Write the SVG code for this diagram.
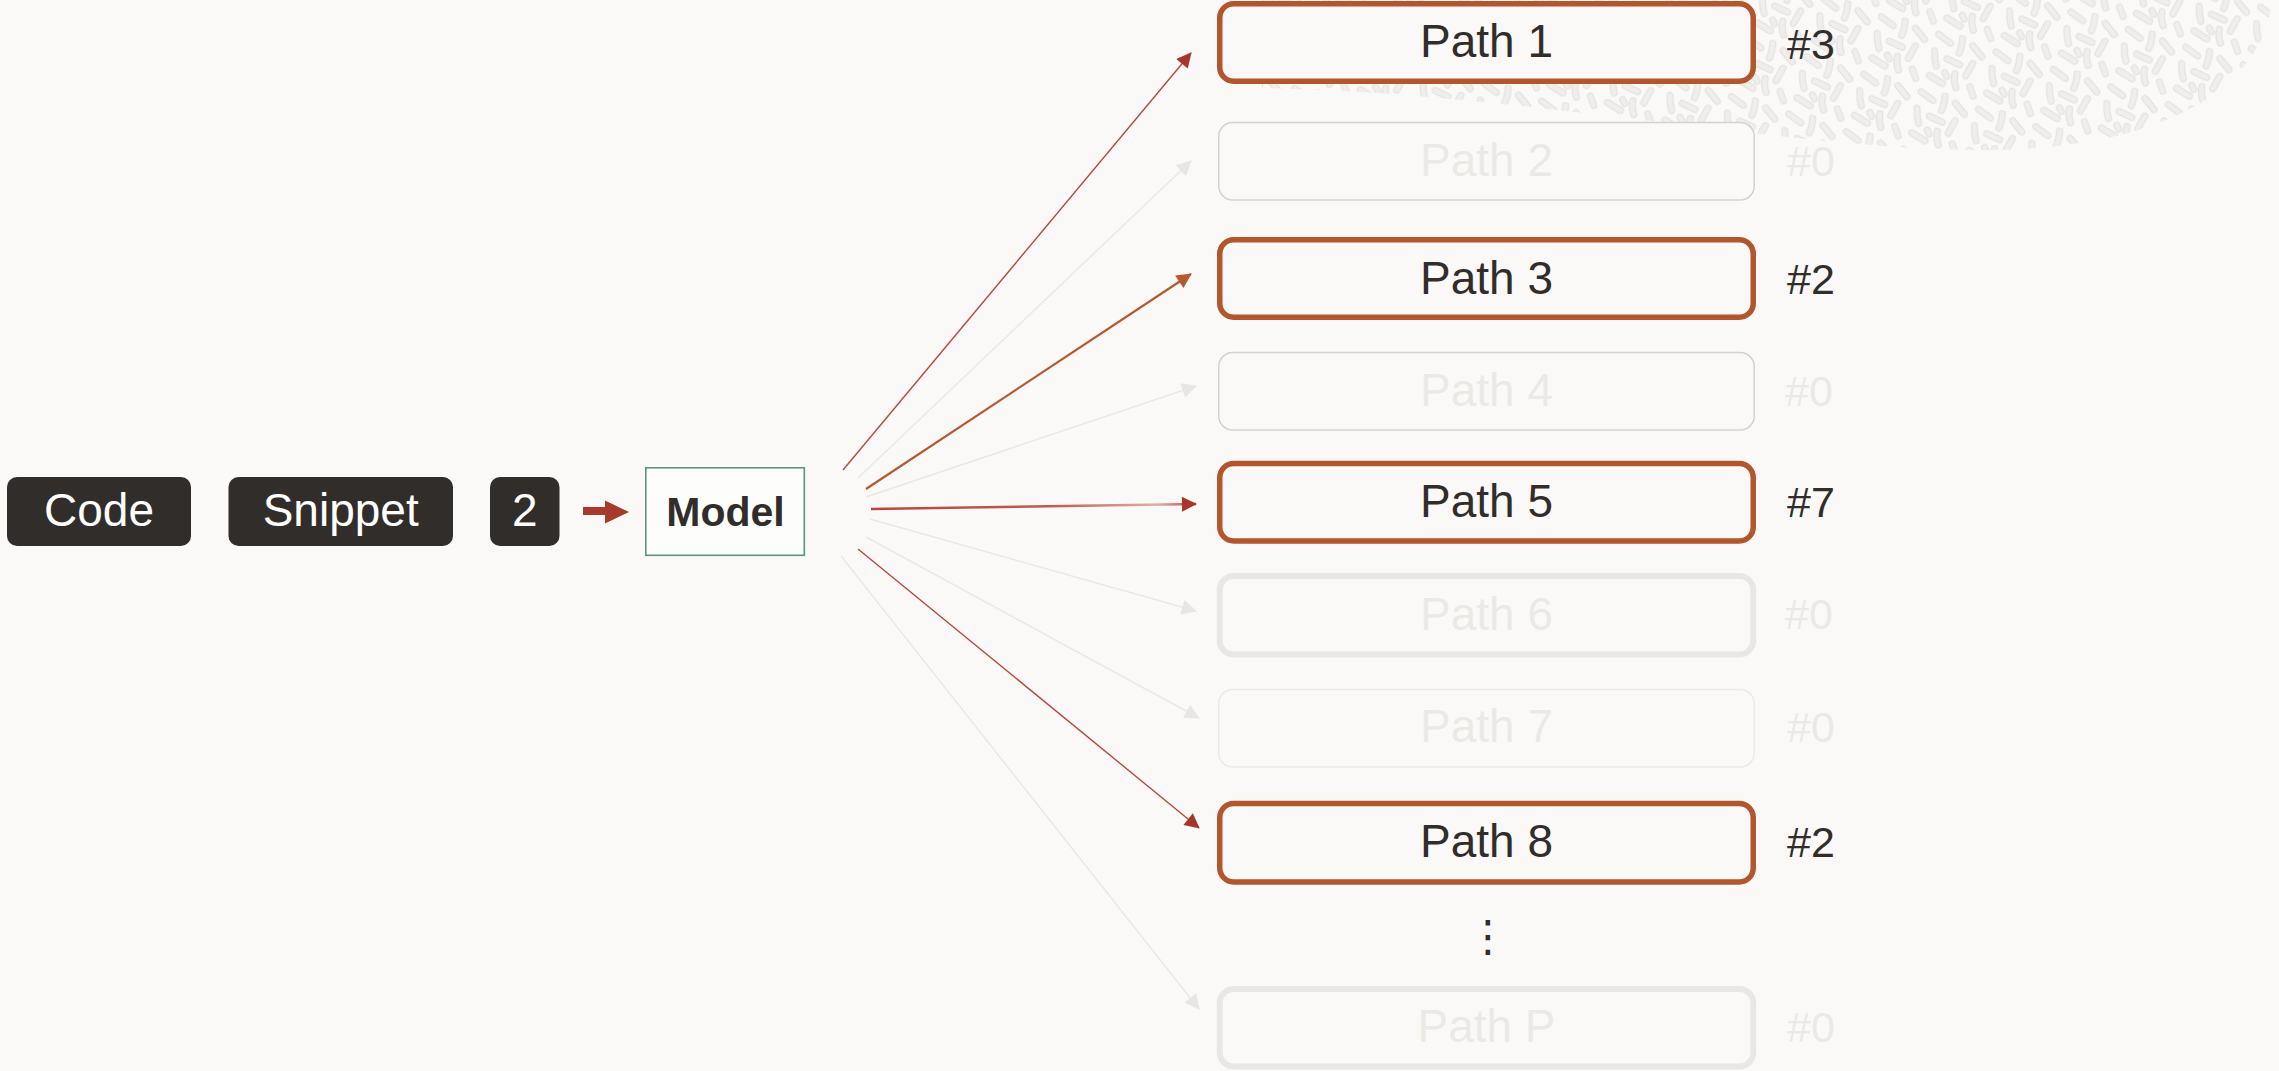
<svg xmlns="http://www.w3.org/2000/svg" xmlns:xlink="http://www.w3.org/1999/xlink" width="2279" height="1071" viewBox="0 0 2279 1071">
<defs>
<style>
.bg{fill:#fbf9f8}
.tok{fill:#312d2a}
.tokt{font-family:"Liberation Sans",Arial,sans-serif;font-size:46px;fill:#ffffff;text-anchor:middle}
.model{fill:#fdfdfc;stroke:#5b9483;stroke-width:1.6}
.modelt{font-family:"Liberation Sans",Arial,sans-serif;font-size:41px;font-weight:bold;fill:#312d2a;text-anchor:middle}
.hi{fill:#fbf9f8;stroke:#b2562d;stroke-width:5.5}
.lo{fill:#fbf9f8;stroke:#d4d2cf;stroke-width:1.5}
.loT{fill:#fbf9f8;stroke:#e9e7e4;stroke-width:6}
.lo7{fill:#fbf9f8;stroke:#eceae7;stroke-width:1.5}
.pt{font-family:"Liberation Sans",Arial,sans-serif;font-size:46px;fill:#312d2a;text-anchor:middle}
.ptf{font-family:"Liberation Sans",Arial,sans-serif;font-size:46px;fill:#ebe9e6;text-anchor:middle}
.ct{font-family:"Liberation Sans",Arial,sans-serif;font-size:43px;fill:#312d2a}
.ctf{font-family:"Liberation Sans",Arial,sans-serif;font-size:43px;fill:#ebe9e6}
.cr{stroke:#b9473b;stroke-width:1.4;fill:none}
.co{stroke:#b5582e;stroke-width:2.2;fill:none}
.cg{stroke:#eae8e5;stroke-width:1.5;fill:none}
</style>
<marker id="mRed" viewBox="0 0 16 16" refX="15" refY="8" markerWidth="16" markerHeight="15" markerUnits="userSpaceOnUse" orient="auto"><path d="M0,0 L16,8 L0,16 Z" fill="#a8352a"/></marker>
<marker id="mOr" viewBox="0 0 16 16" refX="15" refY="8" markerWidth="16" markerHeight="15" markerUnits="userSpaceOnUse" orient="auto"><path d="M0,0 L16,8 L0,16 Z" fill="#b35a30"/></marker>
<marker id="mGr" viewBox="0 0 16 16" refX="15" refY="8" markerWidth="16" markerHeight="15" markerUnits="userSpaceOnUse" orient="auto"><path d="M0,0 L16,8 L0,16 Z" fill="#e8e6e3"/></marker>
<linearGradient id="g5" gradientUnits="userSpaceOnUse" x1="871" y1="0" x2="1196" y2="0">
<stop offset="0" stop-color="#b8473b"/>
<stop offset="0.55" stop-color="#c05a4f"/>
<stop offset="0.88" stop-color="#e2aea8"/>
<stop offset="1" stop-color="#b8473b"/>
</linearGradient>
<g id="sqs">
<path d="M4 6 L18 11"/>
<path d="M28 3 Q30 10 29 18"/>
<path d="M40 7 L52 15"/>
<path d="M5 23 Q7 31 11 37"/>
<path d="M19 27 L33 29"/>
<path d="M45 24 L42 38"/>
<path d="M7 48 L22 52"/>
<path d="M31 39 Q32 47 36 52"/>
<path d="M49 47 L55 55"/>
<path d="M21 41 L24 44"/>
</g>
<pattern id="squig" width="60" height="60" patternUnits="userSpaceOnUse" patternTransform="rotate(17)">
<use xlink:href="#sqs" stroke="#e2e0dd" stroke-width="7" stroke-linecap="round" fill="none"/>
<use xlink:href="#sqs" stroke="#efeeec" stroke-width="5" stroke-linecap="round" fill="none"/>
</pattern>
</defs>

<rect class="bg" x="0" y="0" width="2279" height="1071"/>
<path id="decor" d="M1262,0 L1262,88 C1520,92 1790,150 1985,150 C2150,150 2262,95 2272,0 Z" fill="url(#squig)"/>

<g id="connectors">
<polygon points="583,507 605,507 605,500.5 629,512 605,523.5 605,515 583,515" fill="#a63a2c"/>
<line class="cr" x1="843" y1="470" x2="1191" y2="53" marker-end="url(#mRed)"/>
<line class="cg" x1="858" y1="478" x2="1191" y2="161" marker-end="url(#mGr)"/>
<line class="co" x1="866" y1="489" x2="1191" y2="274" marker-end="url(#mOr)"/>
<line class="cg" x1="866" y1="497" x2="1196" y2="386" marker-end="url(#mGr)"/>
<line x1="871" y1="509" x2="1196" y2="504" stroke="url(#g5)" stroke-width="2.4" marker-end="url(#mRed)"/>
<line class="cg" x1="870" y1="519" x2="1196" y2="611" marker-end="url(#mGr)"/>
<line class="cg" x1="866" y1="537" x2="1199" y2="718" marker-end="url(#mGr)"/>
<line class="cr" x1="858" y1="549" x2="1199" y2="828" marker-end="url(#mRed)"/>
<line class="cg" x1="841" y1="556" x2="1199" y2="1009" marker-end="url(#mGr)"/>
</g>

<g id="tok-code"><rect class="tok" x="7" y="477" width="184" height="69" rx="10"/><text class="tokt" x="99" y="526">Code</text></g>
<g id="tok-snippet"><rect class="tok" x="228.5" y="477" width="224.5" height="69" rx="10"/><text class="tokt" x="340.7" y="526">Snippet</text></g>
<g id="tok-2"><rect class="tok" x="490" y="477" width="69.5" height="69" rx="10"/><text class="tokt" x="524.7" y="526">2</text></g>
<g id="model"><rect class="model" x="645.8" y="467.8" width="158.5" height="87.5"/><text class="modelt" x="725.5" y="526">Model</text></g>

<g id="path1"><rect class="hi" x="1219.75" y="3.75" width="533.5" height="77.5" rx="14"/><text class="pt" x="1486.5" y="57">Path 1</text><text class="ct" x="1787" y="59">#3</text></g>
<g id="path2"><rect class="lo" x="1218.75" y="122.5" width="535.5" height="77.5" rx="14"/><text class="ptf" x="1486.5" y="176">Path 2</text><text class="ctf" x="1787" y="176">#0</text></g>
<g id="path3"><rect class="hi" x="1219.75" y="239.75" width="533.5" height="77.5" rx="14"/><text class="pt" x="1486.5" y="294">Path 3</text><text class="ct" x="1787" y="294">#2</text></g>
<g id="path4"><rect class="lo" x="1218.75" y="352.5" width="535.5" height="77.5" rx="14"/><text class="ptf" x="1486.5" y="406">Path 4</text><text class="ctf" x="1785" y="406">#0</text></g>
<g id="path5"><rect class="hi" x="1219.75" y="463.5" width="533.5" height="77.5" rx="14"/><text class="pt" x="1486.5" y="517">Path 5</text><text class="ct" x="1787" y="517">#7</text></g>
<g id="path6"><rect class="loT" x="1219.75" y="576" width="533.5" height="78.5" rx="14"/><text class="ptf" x="1486.5" y="630">Path 6</text><text class="ctf" x="1785" y="629">#0</text></g>
<g id="path7"><rect class="lo7" x="1218.75" y="689.5" width="535.5" height="77.5" rx="14"/><text class="ptf" x="1486.5" y="742">Path 7</text><text class="ctf" x="1787" y="742">#0</text></g>
<g id="path8"><rect class="hi" x="1219.75" y="803.5" width="533.5" height="78.5" rx="14"/><text class="pt" x="1486.5" y="857">Path 8</text><text class="ct" x="1787" y="857">#2</text></g>
<g id="ellipsis"><text x="1488" y="951" font-family="'DejaVu Sans',sans-serif" font-size="43" fill="#312d2a" text-anchor="middle">⋮</text></g>
<g id="pathP"><rect class="loT" x="1219.75" y="989" width="533.5" height="77.5" rx="14"/><text class="ptf" x="1486.5" y="1042">Path P</text><text class="ctf" x="1787" y="1042">#0</text></g>
</svg>
